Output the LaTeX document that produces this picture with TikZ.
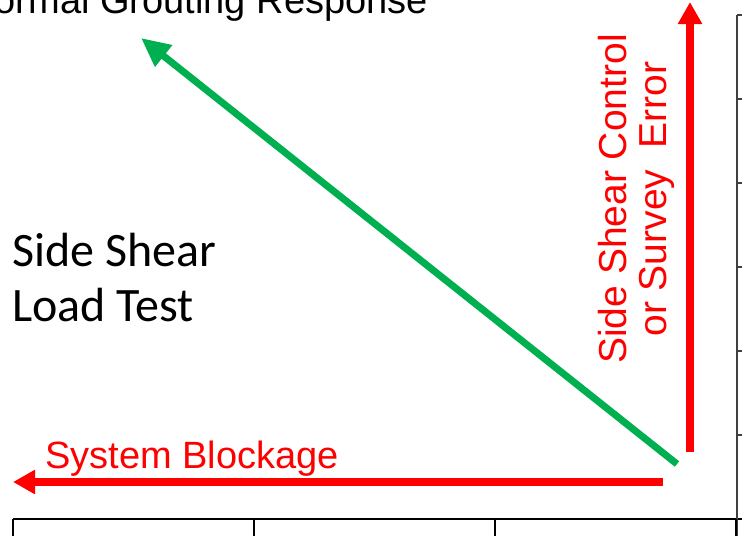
\documentclass[tikz,border=0pt]{standalone}
\usepackage{fontspec}
\setmainfont{Liberation Sans}
\newfontfamily\calib{Carlito}
\usetikzlibrary{arrows.meta}
\definecolor{offgreen}{RGB}{0,176,80}
\definecolor{offred}{RGB}{255,0,0}
\definecolor{axisgray}{RGB}{64,64,64}
\begin{document}
\begin{tikzpicture}[x=1pt,y=-1pt,
  axisline/.style={draw=axisgray,line width=1.4pt},
  greenarrow/.style={draw=offgreen,line width=7pt,-{Triangle[length=29pt,width=26pt]}},
  redarrow/.style={draw=offred,line width=7.5pt,-{Triangle[length=22pt,width=23pt]}},
  redtext/.style={text=offred,inner sep=0pt,font=\fontsize{38}{40}\selectfont},
  blacktext/.style={text=black,inner sep=0pt,font=\calib\fontsize{48}{55}\selectfont}]
\useasboundingbox (0,0) rectangle (742,536);
% axes
\coordinate (ax0) at (13,519);
\coordinate (ax1) at (742,519);
\coordinate (ay0) at (737,15);
\coordinate (ay1) at (737,536);
\draw[axisline,draw=black] (ax0) -- (ax1);
\draw[axisline] (ay0) -- (ay1);
\foreach \x [count=\i] in {13,254,495,736}
  {\coordinate (bt\i) at (\x,519); \draw[axisline,draw=black] (bt\i) -- ++(0,17);}
\foreach \y [count=\i] in {15,99,183,267,351,435}
  {\coordinate (rt\i) at (737,\y); \draw[axisline] (rt\i) -- ++(6,0);}
% arrows
\coordinate (gs) at (677,464);
\coordinate (ge) at (141,38);
\draw[greenarrow] (gs) -- (ge);
\coordinate (hs) at (663,482);
\coordinate (he) at (13,482);
\draw[redarrow] (hs) -- (he);
\coordinate (vs) at (690,452);
\coordinate (ve) at (690,2);
\draw[redarrow] (vs) -- (ve);
% texts
\node[inner sep=0pt,anchor=base east,font=\fontsize{38}{40}\selectfont] (title) at (428,13) {Normal Grouting Response};
\node[blacktext,anchor=base west] (ss1) at (12,266) {Side Shear};
\node[blacktext,anchor=base west] (ss2) at (12,321) {Load Test};
\node[redtext,anchor=base west] (sb) at (45,468) {System Blockage};
\node[redtext,font=\fontsize{39}{40}\selectfont,rotate=90,align=center] (sc) at (636,199) {Side Shear Control\\or Survey\ \ Error};
\end{tikzpicture}
\end{document}
